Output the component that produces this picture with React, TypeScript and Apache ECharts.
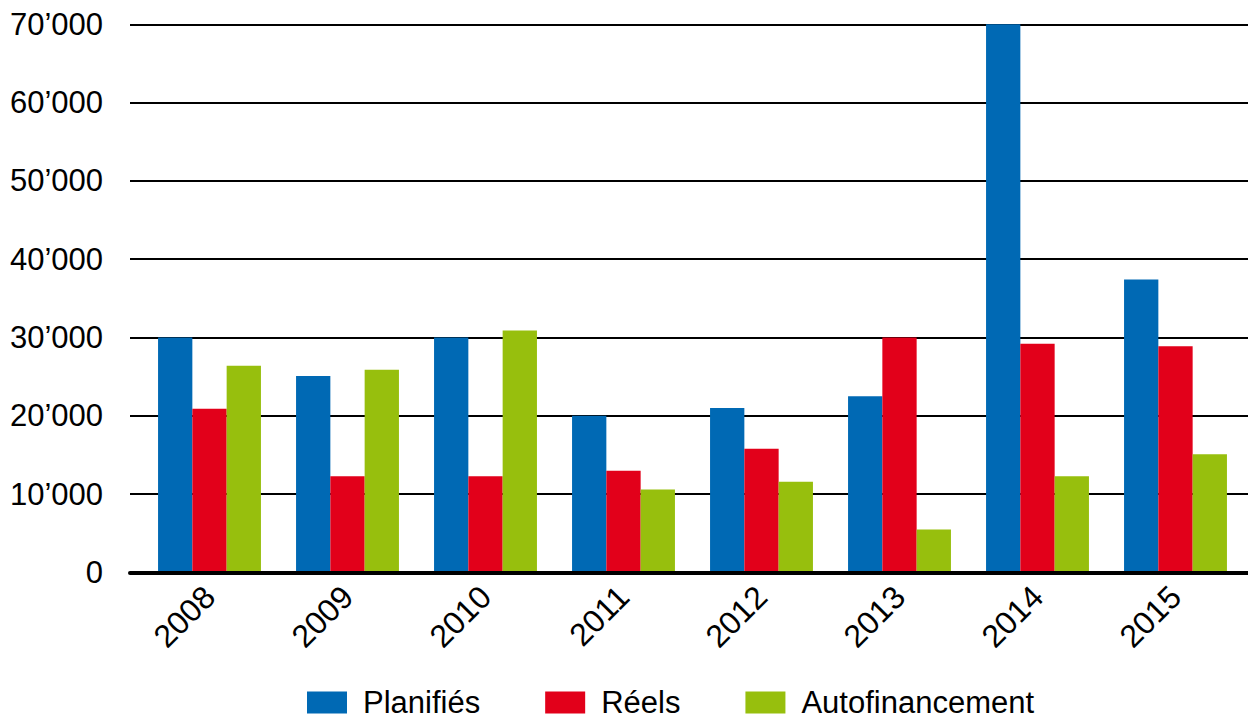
import React, { useEffect, useRef } from "react";
import * as echarts from "echarts";

const years = ["2008", "2009", "2010", "2011", "2012", "2013", "2014", "2015"];
const planifies = [30000, 25100, 30000, 20000, 21000, 22500, 70000, 37400];
const reels = [20900, 12300, 12300, 13000, 15800, 30000, 29200, 28900];
const autofinancement = [26400, 25900, 30900, 10600, 11600, 5500, 12300, 15100];
const seriesNames = ["Planifiés", "Réels", "Autofinancement"];
const colors = ["#0069B4", "#E2001A", "#97BF0D"];

const FONT = "'Liberation Sans', Arial, Helvetica, sans-serif";

function fmt(v: number): string {
  const s = String(Math.round(v));
  if (v === 0) return "0";
  return s.slice(0, s.length - 3) + "\u2019" + s.slice(s.length - 3);
}

export default function App() {
  const ref = useRef<HTMLDivElement>(null);
  useEffect(() => {
    document.body.style.margin = "0";
    const chart = echarts.init(ref.current!, undefined, { renderer: "svg" });
    const top = 24.3;
    const bottom = 715 - 572.5;
    const datas = [planifies, reels, autofinancement];
    chart.setOption({
      animation: false,
      backgroundColor: "#ffffff",
      textStyle: { fontFamily: FONT },
      grid: [
        { left: 130, right: 0, top, bottom },
        { left: 140.5, right: 3.5, top, bottom },
      ],
      xAxis: [
        {
          type: "category",
          gridIndex: 0,
          data: years,
          offset: 1.2,
          z: 5,
          axisLine: { show: true, lineStyle: { color: "#000", width: 4 } },
          axisTick: { show: false },
          axisLabel: { show: false },
          splitLine: { show: false },
        },
        {
          type: "category",
          gridIndex: 1,
          data: years,
          axisLine: { show: false },
          axisTick: { show: false },
          axisLabel: {
            rotate: 45,
            margin: 19,
            fontSize: 32,
            color: "#000",
            fontFamily: FONT,
          },
        },
      ],
      yAxis: [
        {
          type: "value",
          gridIndex: 0,
          min: 0,
          max: 70000,
          interval: 10000,
          axisLine: { show: false },
          axisTick: { show: false },
          axisLabel: {
            margin: 27,
            fontSize: 31,
            color: "#000",
            fontFamily: FONT,
            formatter: (v: number) => fmt(v),
          },
          splitLine: { show: true, lineStyle: { color: "#000", width: 2 } },
        },
        {
          type: "value",
          gridIndex: 1,
          min: 0,
          max: 70000,
          interval: 10000,
          show: false,
          splitLine: { show: false },
        },
      ],
      legend: {
        left: 307,
        top: 685.5,
        padding: 0,
        itemWidth: 40,
        itemHeight: 22,
        itemGap: 65,
        icon: "rect",
        data: seriesNames,
        textStyle: {
          fontSize: 31,
          color: "#000",
          fontFamily: FONT,
          lineHeight: 34,
          padding: [0, 0, 0, 11],
        },
      },
      series: datas.map((d, i) => ({
        name: seriesNames[i],
        type: "bar",
        xAxisIndex: 1,
        yAxisIndex: 1,
        data: d,
        barWidth: 34.3,
        barGap: "0%",
        itemStyle: { color: colors[i] },
      })),
    });
    return () => chart.dispose();
  }, []);
  return <div ref={ref} style={{ width: 1248, height: 715 }} />;
}
